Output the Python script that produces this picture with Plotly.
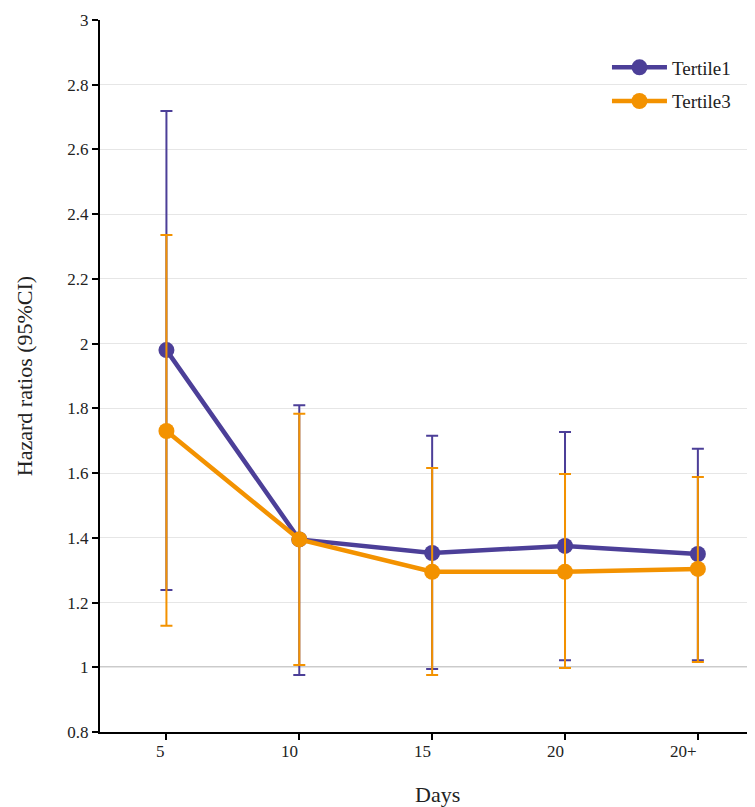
import plotly.graph_objects as go

days = ["5", "10", "15", "20", "20+"]
t1_hr = [1.98, 1.395, 1.353, 1.375, 1.350]
t1_lo = [1.239, 0.976, 0.995, 1.022, 1.022]
t1_hi = [2.719, 1.810, 1.715, 1.727, 1.675]
t3_hr = [1.730, 1.395, 1.295, 1.295, 1.304]
t3_lo = [1.128, 1.007, 0.976, 0.998, 1.016]
t3_hi = [2.336, 1.783, 1.616, 1.597, 1.588]
y_ticks = [0.8, 1, 1.2, 1.4, 1.6, 1.8, 2, 2.2, 2.4, 2.6, 2.8, 3]

PURPLE = "#4c3f98"
ORANGE = "#f39200"
FONT = "Liberation Serif, Times New Roman, serif"

fig = go.Figure()
for name, hr, lo, hi, col in [("Tertile1", t1_hr, t1_lo, t1_hi, PURPLE),
                              ("Tertile3", t3_hr, t3_lo, t3_hi, ORANGE)]:
    fig.add_trace(go.Scatter(
        x=days, y=hr, name=name, mode="lines+markers", legendgroup=name,
        line=dict(color=col, width=4.5),
        marker=dict(color=col, size=16),
        error_y=dict(type="data", symmetric=False,
                     array=[h - v for h, v in zip(hi, hr)],
                     arrayminus=[v - l for v, l in zip(hr, lo)],
                     color=col, thickness=2, width=6),
    ))

fig.add_shape(type="line", xref="paper", yref="y", x0=0, x1=1, y0=1, y1=1,
              line=dict(color="#333333", width=1.2), layer="between")

for i, d in enumerate(days):
    fig.add_annotation(x=i, xref="x", y=0, yref="paper", text=d, showarrow=False,
                       xanchor="right", yanchor="top", yshift=-8, xshift=1,
                       font=dict(family=FONT, size=17, color="#222"))

fig.add_annotation(x=(437 - 100) / 655, xref="paper", y=0, yref="paper", text="Days",
                   showarrow=False, yanchor="middle", yshift=-62,
                   font=dict(family=FONT, size=22, color="#222"))

fig.update_layout(
    width=747, height=799,
    margin=dict(l=92, r=0, t=12, b=75, autoexpand=False),
    paper_bgcolor="white", plot_bgcolor="white",
    font=dict(family=FONT, size=17, color="#222"),
    showlegend=True,
    legend=dict(x=0.774, y=0.96, xanchor="left", yanchor="top",
                font=dict(family=FONT, size=19, color="#222"),
                itemwidth=55, bgcolor="rgba(0,0,0,0)",
                traceorder="grouped", tracegroupgap=6),
    xaxis=dict(type="category", range=[-0.5, 4.43], showgrid=False,
               showline=True, linecolor="black", linewidth=2,
               ticks="outside", ticklen=6, tickwidth=2, tickcolor="black",
               showticklabels=False, zeroline=False, automargin=False),
    yaxis=dict(range=[0.8, 3], tickvals=y_ticks,
               ticktext=[f"{v:g}" for v in y_ticks],
               showgrid=True, gridcolor="#e6e6e6", gridwidth=1,
               showline=True, linecolor="black", linewidth=2,
               ticks="outside", ticklen=6, tickwidth=2, tickcolor="black",
               tickfont=dict(family=FONT, size=17, color="#222"),
               title=dict(text="Hazard ratios (95%CI)", standoff=29,
                          font=dict(family=FONT, size=22, color="#222")),
               zeroline=False, automargin=False),
)

fig.write_html("out.html")
